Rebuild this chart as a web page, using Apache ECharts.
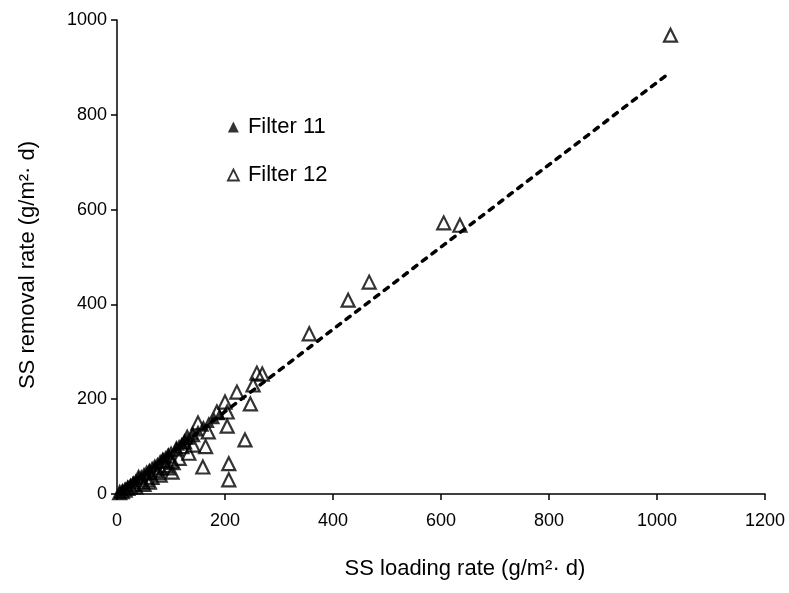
<!DOCTYPE html>
<html>
<head>
<meta charset="utf-8">
<script src="https://cdn.jsdelivr.net/npm/echarts@6/dist/echarts.min.js"></script>
<style>html,body{margin:0;padding:0;background:#fff;}#c{width:789px;height:593px;}</style>
</head>
<body>
<div id="c"></div>
<script>
// Filter 11 (filled triangles)
const f11X = [5,10,15,20,25,30,35,40,45,50,55,60,65,70,75,80,85,90,95,100,110,115,120,125,130,140,150,160,170,180,190];
const f11Y = [4,9,13,18,22,27,31,36,40,45,50,54,58,63,66,72,77,80,85,90,98,104,108,112,117,126,134,144,152,160,168];
// Filter 12 (open triangles)
const f12X = [1025,605,635,467,428,356,259,269,252,222,247,200,185,204,204,150,169,237,159,207,207,164,141,133,102,104,
  90,80,70,60,55,45,40,30,25,20,15,10,5,65,75,85,95,110,120,125,130,140,115,100,50,35,60,80,95];
const f12Y = [968,572,567,447,409,338,255,253,230,215,190,194,173,173,143,150,131,114,57,64,30,100,103,86,46,66,
  60,55,50,45,30,25,35,20,15,12,8,5,3,35,45,70,80,95,100,110,120,125,75,70,20,15,25,40,55];
// Trend line
const trendX = [0,1025];
const trendY = [0,890];
// Axis ticks
const xTicks = [0,200,400,600,800,1000,1200];
const yTicks = [0,200,400,600,800,1000];

const zip = (a,b)=>a.map((v,i)=>[v,b[i]]);
const font = '"Liberation Sans", Arial, sans-serif';
const chart = echarts.init(document.getElementById('c'));
chart.setOption({
  animation:false,
  backgroundColor:'#fff',
  grid:{left:117,right:24,top:20,bottom:99,containLabel:false},
  legend:{
    orient:'vertical', left:222, top:111, itemGap:26, itemWidth:11, itemHeight:11,
    textStyle:{fontSize:22, fontFamily:font, color:'#000', padding:[0,0,0,4]},
    data:[
      {name:'Filter 11', icon:'triangle', itemStyle:{color:'#000', borderWidth:0}},
      {name:'Filter 12', icon:'triangle', itemStyle:{color:'#fff', borderColor:'#000', borderWidth:1.8}}
    ]
  },
  xAxis:{
    type:'value', min:0, max:1200, interval:200,
    name:'SS loading rate (g/m²· d)', nameLocation:'middle', nameGap:64,
    nameTextStyle:{fontSize:22, fontFamily:font, color:'#000', padding:[0,0,0,48]},
    axisLine:{lineStyle:{color:'#000', width:1.5}},
    axisTick:{show:true, inside:false, length:6, lineStyle:{color:'#000', width:1.5}},
    axisLabel:{fontSize:18, fontFamily:font, color:'#000', margin:18, formatter:v=>String(v)},
    splitLine:{show:false}
  },
  yAxis:{
    type:'value', min:0, max:1000, interval:200,
    name:'SS removal rate (g/m²· d)', nameLocation:'middle', nameGap:78, nameRotate:90,
    nameTextStyle:{fontSize:22, fontFamily:font, color:'#000', padding:[0,16,0,0]},
    axisLine:{show:true, lineStyle:{color:'#000', width:1.5}},
    axisTick:{show:true, inside:false, length:6, lineStyle:{color:'#000', width:1.5}},
    axisLabel:{fontSize:18, fontFamily:font, color:'#000', margin:10, formatter:v=>String(v)},
    splitLine:{show:false}
  },
  series:[
    {
      name:'trend', type:'line', data:zip(trendX,trendY), symbol:'none', silent:true,
      lineStyle:{color:'#000', width:3.5, type:[5,7], cap:'round'}, z:1
    },
    {
      name:'Filter 12', type:'scatter', data:zip(f12X,f12Y), symbol:'triangle', symbolSize:13,
      itemStyle:{color:'rgba(255,255,255,0)', borderColor:'#000', borderWidth:2.2}, z:3
    },
    {
      name:'Filter 11', type:'scatter', data:zip(f11X,f11Y), symbol:'triangle', symbolSize:12,
      itemStyle:{color:'#000'}, z:2
    }
  ]
});
</script>
</body>
</html>
